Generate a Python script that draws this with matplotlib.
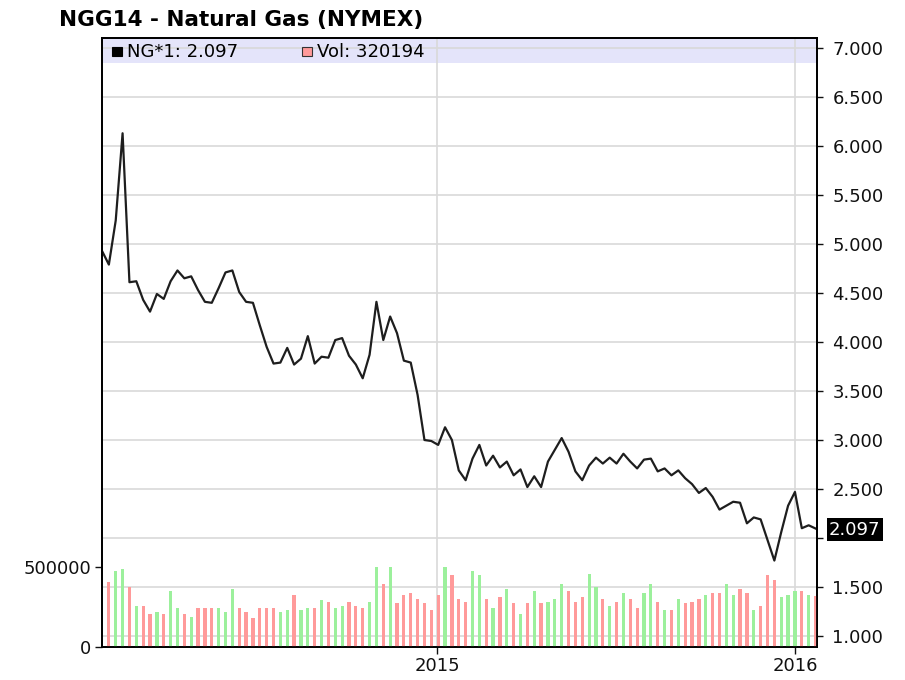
import matplotlib
matplotlib.use("Agg")
import matplotlib.pyplot as plt
import matplotlib.dates as mdates
from matplotlib.patches import Rectangle
import numpy as np
import pandas as pd

plt.rcParams['font.family'] = ['DejaVu Sans']

# weekly closes (NG*1), first week is only partly visible at the left edge
close = [4.93, 4.79, 5.24, 6.13, 4.61, 4.62, 4.43, 4.31, 4.49, 4.44,
         4.62, 4.73, 4.65, 4.67, 4.53, 4.41, 4.40, 4.55, 4.71, 4.73,
         4.51, 4.41, 4.40, 4.17, 3.95, 3.78, 3.79, 3.94, 3.77, 3.83,
         4.06, 3.78, 3.85, 3.84, 4.02, 4.04, 3.86, 3.77, 3.63, 3.87,
         4.41, 4.02, 4.26, 4.09, 3.81, 3.79, 3.46, 3.00, 2.99, 2.95,
         3.13, 3.00, 2.69, 2.59, 2.81, 2.95, 2.74, 2.84, 2.72, 2.78,
         2.64, 2.70, 2.52, 2.63, 2.52, 2.78, 2.90, 3.02, 2.88, 2.68,
         2.59, 2.74, 2.82, 2.76, 2.82, 2.76, 2.86, 2.78, 2.71, 2.80,
         2.81, 2.68, 2.71, 2.64, 2.69, 2.61, 2.55, 2.46, 2.51, 2.42,
         2.29, 2.33, 2.37, 2.36, 2.15, 2.21, 2.19, 1.98, 1.77, 2.06,
         2.33, 2.47, 2.10, 2.13, 2.097]

# weekly volume, one bar per week from the second week on
volume = [405000, 473000, 487000, 378000, 258000, 258000, 204000, 218000, 204000, 353000,
          244000, 204000, 189000, 244000, 244000, 244000, 244000, 218000, 363000, 244000,
          218000, 179000, 244000, 244000, 244000, 218000, 229000, 323000, 229000, 244000,
          244000, 294000, 284000, 244000, 258000, 284000, 258000, 244000, 284000, 500000,
          393000, 500000, 273000, 323000, 338000, 298000, 273000, 233000, 323000, 500000,
          447000, 298000, 284000, 473000, 447000, 298000, 244000, 313000, 363000, 273000,
          204000, 273000, 353000, 273000, 284000, 298000, 393000, 353000, 284000, 313000,
          458000, 378000, 298000, 258000, 284000, 338000, 298000, 244000, 338000, 393000,
          284000, 229000, 229000, 298000, 273000, 284000, 298000, 323000, 338000, 338000,
          393000, 323000, 363000, 338000, 229000, 258000, 447000, 418000, 313000, 323000,
          353000, 353000, 323000, 320194]

dates = pd.date_range("2014-01-24", periods=len(close), freq="7D")
vol_dates = dates[1:]
price_ticks = np.arange(1.0, 7.01, 0.5)

up = np.array(close[1:]) >= np.array(close[:-1])
bar_colors = np.where(up, "#9cf09c", "#ff9a9a")

W, H = 905, 680
fig = plt.figure(figsize=(W / 100, H / 100), dpi=100)
ax = fig.add_axes([102 / W, 33 / H, 715 / W, 609 / H])
axv = ax.twinx()

ax.set_axisbelow(True)
ax.axhspan(6.85, 7.2, color="#e4e4fa", zorder=0.1, lw=0)
ax.plot(dates, close, color="#1e1e1e", lw=1.6, zorder=3)

ax.set_ylim(0.888, 7.102)
ax.set_xlim(dates[0], dates[-1] + pd.Timedelta(days=1.5))
ax.set_yticks(price_ticks)
ax.yaxis.set_major_formatter(plt.FuncFormatter(lambda v, _: "" if abs(v - 2.0) < 1e-6 else f"{v:.3f}"))
ax.xaxis.set_major_locator(mdates.YearLocator())
ax.xaxis.set_major_formatter(mdates.DateFormatter("%Y"))
ax.grid(True, color="#d9d9d9", lw=1.2)

axv.bar(vol_dates, volume, width=3.3, color=bar_colors, zorder=2)
axv.set_ylim(0, 3.806e6)
axv.set_yticks([0, 500000])
axv.yaxis.set_major_formatter(plt.FuncFormatter(lambda v, _: f"{v:.0f}"))

# price scale on the right, volume scale on the left
ax.yaxis.tick_right()
ax.yaxis.set_label_position("right")
axv.yaxis.tick_left()
axv.yaxis.set_label_position("left")

ax.tick_params(axis="y", direction="out", length=4, width=1, pad=7, labelsize=13, colors="#111111")
ax.tick_params(axis="x", direction="out", length=5, width=1, pad=2, labelsize=13, colors="#111111")
axv.tick_params(axis="y", direction="out", length=5, width=1, pad=3, labelsize=13, colors="#111111")

for a in (ax, axv):
    for s in a.spines.values():
        s.set_color("black")
        s.set_linewidth(1.3)

# last price box on the right axis
ax.annotate(f"{close[-1]:.3f}", xy=(1, close[-1]), xycoords=("axes fraction", "data"),
            xytext=(12, -1), textcoords="offset pixels", ha="left", va="center",
            fontsize=13, color="white", zorder=10, annotation_clip=False,
            bbox=dict(boxstyle="square,pad=0.12", fc="black", ec="none"))

# legend strip
fig.patches.append(Rectangle((112 / W, 1 - 56 / H), 10 / W, 9 / H, transform=fig.transFigure,
                             fc="black", ec="black", lw=0.8))
fig.text(127 / W, 1 - 52 / H, f"NG*1: {close[-1]:.3f}", fontsize=13, va="center", ha="left")
fig.patches.append(Rectangle((302 / W, 1 - 56 / H), 10 / W, 9 / H, transform=fig.transFigure,
                             fc="#ff9a9a", ec="#333333", lw=0.8))
fig.text(317 / W, 1 - 52 / H, f"Vol: {volume[-1]}", fontsize=13, va="center", ha="left")

fig.text(59 / W, 1 - 20 / H, "NGG14 - Natural Gas (NYMEX)", fontsize=15.5, fontweight="bold",
         va="center", ha="left")

fig.savefig("out.png", dpi=100)
